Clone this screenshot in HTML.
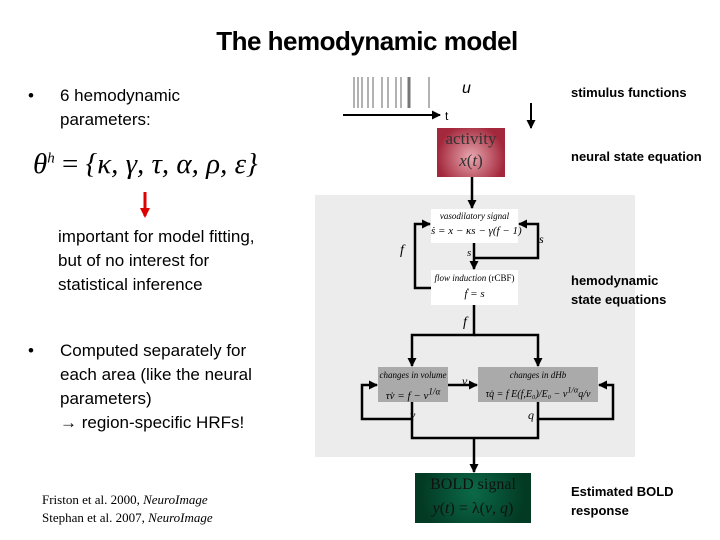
<!DOCTYPE html>
<html><head><meta charset="utf-8"><style>
body{margin:0;width:720px;height:540px;background:#fff;position:relative;overflow:hidden;font-family:"Liberation Sans",sans-serif}
.a{position:absolute;white-space:nowrap}
.t{font-size:17px;color:#000;line-height:24px}
.b{font-weight:bold;font-size:13px;z-index:5}
.s{font-family:"Liberation Serif",serif;font-style:italic}
</style></head><body>
<div class="a" style="left:0;width:734px;top:26px;text-align:center;font-size:26px;font-weight:bold;letter-spacing:-0.5px">The hemodynamic model</div>
<div class="a t" style="left:28px;top:84px">•</div>
<div class="a t" style="left:60px;top:84px">6 hemodynamic<br>parameters:</div>
<div class="a s" style="left:33px;top:148px;font-size:29px">θ<sup style="font-size:15px">h</sup> <span style="font-style:normal">=</span> {κ, γ, τ, α, ρ, ε}</div>
<div class="a t" style="left:58px;top:225px">important for model fitting,<br>but of no interest for<br>statistical inference</div>
<div class="a t" style="left:28px;top:339px">•</div>
<div class="a t" style="left:60px;top:339px">Computed separately for<br>each area (like the neural<br>parameters)<br>→ region-specific HRFs!</div>
<div class="a" style="left:42px;top:491px;font-family:'Liberation Serif',serif;font-size:13px;line-height:18px">Friston et al. 2000, <i>NeuroImage</i><br>Stephan et al. 2007, <i>NeuroImage</i></div>
<div class="a" style="left:315px;top:195px;width:320px;height:262px;background:#ececec"></div>
<div class="a b" style="left:571px;top:85px">stimulus functions</div>
<div class="a b" style="left:571px;top:149px">neural state equation</div>
<div class="a b" style="left:571px;top:271px;line-height:19px">hemodynamic<br>state equations</div>
<div class="a b" style="left:571px;top:482px;line-height:19px">Estimated BOLD<br>response</div>
<div class="a" style="left:437px;top:128px;width:68px;height:49px;background:radial-gradient(circle at 50% 60%,#e8a8b0,#a3283c 75%);text-align:center;font-family:'Liberation Serif',serif;color:#333;font-size:17px;line-height:22px">activity<br><i>x</i>(<i>t</i>)</div>
<div class="a" style="left:431px;top:209px;width:87px;height:34px;background:#fff;text-align:center;font-family:'Liberation Serif',serif;font-size:9px;line-height:15px"><i>vasodilatory signal</i><br><span style="font-size:11px"><i>ṡ = x − κs − γ(f − 1)</i></span></div>
<div class="a" style="left:431px;top:270px;width:87px;height:35px;background:#fff;text-align:center;font-family:'Liberation Serif',serif;font-size:9px;line-height:16px"><i>flow induction</i> (rCBF)<br><span style="font-size:11px"><i>ḟ = s</i></span></div>
<div class="a" style="left:378px;top:367px;width:70px;height:35px;background:#aaa;text-align:center;font-family:'Liberation Serif',serif;font-size:9px;line-height:16px"><i>changes in volume</i><br><span style="font-size:11px"><i>τv̇ = f − v<sup>1/α</sup></i></span></div>
<div class="a" style="left:478px;top:367px;width:120px;height:35px;background:#aaa;text-align:center;font-family:'Liberation Serif',serif;font-size:9px;line-height:16px"><i>changes in dHb</i><br><span style="font-size:10px"><i>τq̇ = f E(f,E₀)/E₀ − v<sup>1/α</sup>q/v</i></span></div>
<div class="a" style="left:415px;top:473px;width:116px;height:50px;background:radial-gradient(circle at 50% 40%,#0b6a48,#033a24 80%);text-align:center;font-family:'Liberation Serif',serif;color:#111;font-size:16px;line-height:24px">BOLD signal<br><i>y</i>(<i>t</i>) = λ(<i>v</i>, <i>q</i>)</div>
<svg class="a" style="left:0;top:0" width="720" height="540">
<defs><marker id="m" markerUnits="userSpaceOnUse" markerWidth="9" markerHeight="9" refX="8" refY="4.5" orient="auto"><path d="M0,0L9,4.5L0,9z" fill="#000"/></marker>
<marker id="r" markerUnits="userSpaceOnUse" markerWidth="10" markerHeight="10" refX="8" refY="5" orient="auto"><path d="M0,0L10,5L0,10z" fill="#d00"/></marker></defs>
<g stroke="#999" stroke-width="1.5">
<line x1="354" y1="77" x2="354" y2="108"/><line x1="358" y1="77" x2="358" y2="108"/><line x1="362" y1="77" x2="362" y2="108"/><line x1="368" y1="77" x2="368" y2="108"/><line x1="373" y1="77" x2="373" y2="108"/><line x1="382" y1="77" x2="382" y2="108"/><line x1="388" y1="77" x2="388" y2="108"/><line x1="396" y1="77" x2="396" y2="108"/><line x1="401" y1="77" x2="401" y2="108"/><line x1="409" y1="77" x2="409" y2="108" stroke="#777" stroke-width="3"/><line x1="429" y1="77" x2="429" y2="108"/></g>
<g stroke="#000" stroke-width="2.5" fill="none">
<line x1="343" y1="115" x2="440" y2="115" stroke-width="2" marker-end="url(#m)"/>
<line x1="531" y1="103" x2="531" y2="128" stroke-width="2" marker-end="url(#m)"/>
<line x1="472" y1="177" x2="472" y2="208" marker-end="url(#m)"/>
<line x1="474" y1="243" x2="474" y2="269" marker-end="url(#m)"/>
<polyline points="474,258 538,258 538,224 519,224" marker-end="url(#m)"/>
<polyline points="431,288 415,288 415,224 430,224" marker-end="url(#m)"/>
<polyline points="474,305 474,335 412,335 412,366" marker-end="url(#m)"/>
<polyline points="474,335 538,335 538,366" marker-end="url(#m)"/>
<line x1="448" y1="385" x2="477" y2="385" marker-end="url(#m)"/>
<polyline points="412,402 412,419 362,419 362,385 377,385" marker-end="url(#m)"/>
<polyline points="538,402 538,419 613,419 613,385 599,385" marker-end="url(#m)"/>
<polyline points="412,419 412,438 538,438 538,419"/>
<line x1="474" y1="438" x2="474" y2="472" marker-end="url(#m)"/>
<line x1="145" y1="192" x2="145" y2="216" stroke="#d00" stroke-width="3" marker-end="url(#r)"/>
</g>
</svg>
<div class="a" style="left:445px;top:109px;font-size:12px">t</div>
<div class="a" style="left:462px;top:80px;font-size:16px;font-style:italic">u</div>
<div class="a s" style="left:400px;top:243px;font-size:14px">f</div>
<div class="a s" style="left:539px;top:232px;font-size:12px">s</div>
<div class="a s" style="left:467px;top:247px;font-size:11px">s</div>
<div class="a s" style="left:463px;top:315px;font-size:14px">f</div>
<div class="a s" style="left:462px;top:374px;font-size:12px">v</div>
<div class="a s" style="left:410px;top:408px;font-size:12px">v</div>
<div class="a s" style="left:528px;top:408px;font-size:12px">q</div>
</body></html>
